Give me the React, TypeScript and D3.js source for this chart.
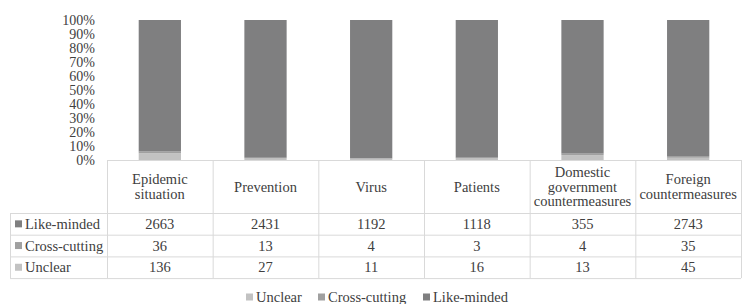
import React from 'react';
import * as d3 from 'd3';

// categories (header lines of the table)
const categories = [
  ['Epidemic', 'situation'],
  ['Prevention'],
  ['Virus'],
  ['Patients'],
  ['Domestic', 'government', 'countermeasures'],
  ['Foreign', 'countermeasures'],
];
const likeMinded = [2663, 2431, 1192, 1118, 355, 2743];
const crossCutting = [36, 13, 4, 3, 4, 35];
const unclear = [136, 27, 11, 16, 13, 45];
const yTicks = [0, 0.1, 0.2, 0.3, 0.4, 0.5, 0.6, 0.7, 0.8, 0.9, 1];

const series = [
  { name: 'Unclear', values: unclear, color: '#c2c2c2' },
  { name: 'Cross-cutting', values: crossCutting, color: '#a0a0a0' },
  { name: 'Like-minded', values: likeMinded, color: '#7f7f80' },
];

const W = 742;
const H = 304;
const FONT = "'Liberation Serif'";
const TEXT = '#404040';
const GRID = '#d9d9d9';

const App = () => {
  const plotTop = 20;
  const plotBottom = 160;
  const tableLeft = 10;
  const colStart = 107;
  const colEnd = 741;

  const x = d3.scaleBand<number>()
    .domain(categories.map((_, i) => i))
    .range([colStart, colEnd]);
  const y = d3.scaleLinear().domain([0, 1]).range([plotBottom, plotTop]);

  const barW = x.bandwidth() * 0.4;

  // stack values as percent
  const rows = categories.map((_, i) => {
    const o: Record<string, number> = {};
    series.forEach(s => { o[s.name] = s.values[i]; });
    return o;
  });
  const stack = d3.stack<Record<string, number>>()
    .keys(series.map(s => s.name))
    .offset(d3.stackOffsetExpand);
  const stacked = stack(rows);

  // table rows: Like-minded, Cross-cutting, Unclear
  const tableSeries = [...series].reverse();
  const headerBottom = 213;
  const rowH = 21.7;
  const rowY = (i: number) => headerBottom + i * rowH;
  const tableBottom = rowY(3);

  const legendItems = series;
  const legendX = [246, 318, 423];

  const ts = { fontFamily: FONT, fontSize: 14.5, fill: TEXT };

  return (
    <svg width={W} height={H} style={{ position: 'absolute', left: 0, top: 0, background: '#fff' }}>
      {/* y axis labels */}
      {yTicks.map(t => (
        <text key={t} x={95} y={y(t)} dy="0.35em" textAnchor="end" style={{ ...ts, fontSize: 14 }}>
          {`${Math.round(t * 100)}%`}
        </text>
      ))}

      {/* bars */}
      {stacked.map((layer, si) => (
        <g key={layer.key} fill={series[si].color}>
          {layer.map((d, i) => (
            <rect key={i}
              x={(x(i) as number) + (x.bandwidth() - barW) / 2}
              y={y(d[1])}
              width={barW}
              height={y(d[0]) - y(d[1])} />
          ))}
        </g>
      ))}

      {/* table grid */}
      <g stroke={GRID} strokeWidth={1} fill="none">
        <line x1={colStart} x2={colEnd} y1={plotBottom + 0.5} y2={plotBottom + 0.5} />
        {[0, 1, 2, 3].map(r => (
          <line key={r} x1={tableLeft} x2={colEnd} y1={rowY(r) + 0.5} y2={rowY(r) + 0.5} />
        ))}
        <line x1={tableLeft + 0.5} x2={tableLeft + 0.5} y1={headerBottom} y2={tableBottom} />
        {categories.map((_, i) => (
          <line key={i} x1={(x(i) as number) + 0.5} x2={(x(i) as number) + 0.5} y1={plotBottom} y2={tableBottom} />
        ))}
        <line x1={colEnd + 0.5} x2={colEnd + 0.5} y1={plotBottom} y2={tableBottom} />
      </g>

      {/* header labels */}
      {categories.map((lines, i) => {
        const cx = (x(i) as number) + x.bandwidth() / 2;
        const lh = 14.5;
        const mid = (plotBottom + headerBottom) / 2;
        const first = mid - ((lines.length - 1) * lh) / 2;
        return (
          <text key={i} textAnchor="middle" style={ts}>
            {lines.map((l, j) => (
              <tspan key={j} x={cx} y={first + j * lh} dy="0.35em">{l}</tspan>
            ))}
          </text>
        );
      })}

      {/* table rows */}
      {tableSeries.map((s, r) => {
        const cy = rowY(r) + rowH / 2;
        return (
          <g key={s.name}>
            <rect x={15} y={cy - 3.5} width={7} height={7} fill={s.color} />
            <text x={25} y={cy} dy="0.35em" style={ts}>{s.name}</text>
            {s.values.map((v, i) => (
              <text key={i} x={(x(i) as number) + x.bandwidth() / 2} y={cy} dy="0.35em"
                textAnchor="middle" style={ts}>{v}</text>
            ))}
          </g>
        );
      })}

      {/* legend */}
      {legendItems.map((s, i) => (
        <g key={s.name}>
          <rect x={legendX[i]} y={293.5} width={7} height={7} fill={s.color} />
          <text x={legendX[i] + 10} y={296.5} dy="0.35em" style={ts}>{s.name}</text>
        </g>
      ))}
    </svg>
  );
};

export default App;
